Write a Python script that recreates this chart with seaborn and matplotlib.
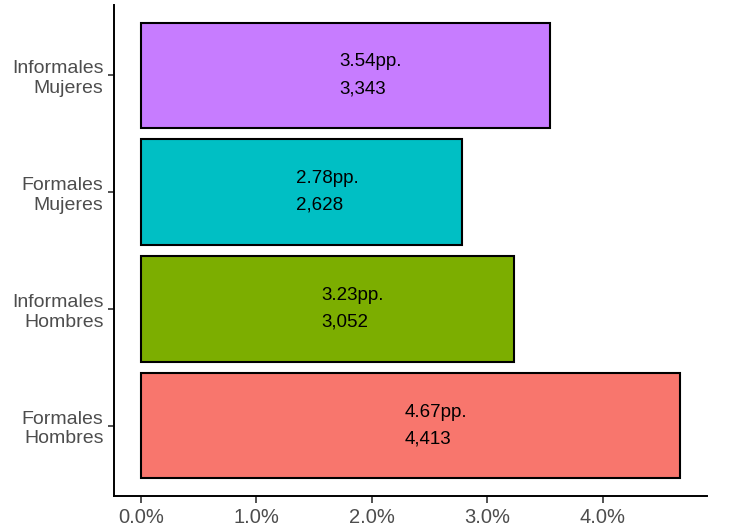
import numpy as np
import pandas as pd
import matplotlib
matplotlib.use("Agg")
import matplotlib.pyplot as plt
from matplotlib.ticker import FuncFormatter
import seaborn as sns

# data (top to bottom as drawn)
categories = ["Informales\nMujeres", "Formales\nMujeres", "Informales\nHombres", "Formales\nHombres"]
pp_values = [3.54, 2.78, 3.23, 4.67]
counts = [3343, 2628, 3052, 4413]
bar_colors = ["#C77CFF", "#00BFC4", "#7CAE00", "#F8766D"]
x_ticks = [0, 1, 2, 3, 4]

df = pd.DataFrame({"grupo": categories, "pp": pp_values, "n": counts})

sns.set_theme(style="ticks")
plt.rcParams["font.family"] = ["Liberation Sans", "DejaVu Sans"]

fig = plt.figure(figsize=(7.29, 5.29), dpi=100)
ax = fig.add_axes([0.1564, 0.0624, 0.8134, 0.9281])

sns.barplot(data=df, x="pp", y="grupo", hue="grupo", order=categories,
            hue_order=categories, palette=bar_colors, saturation=1, orient="h",
            width=0.9, edgecolor="black", linewidth=1.5, legend=False, ax=ax)

# labels inside bars
for i, (v, c) in enumerate(zip(pp_values, counts)):
    ax.text(v / 2 - 0.05, i, f"{v:.2f}pp.\n{c:,}", ha="left", va="center",
            multialignment="left", fontsize=13.5, linespacing=1.75, color="black")

ax.set_xlim(-0.2335, 4.9035)
ax.set_ylim(3.6, -0.6)
ax.set_xticks(x_ticks)
ax.xaxis.set_major_formatter(FuncFormatter(lambda x, _: f"{x:.1f}%"))
ax.set_xlabel("")
ax.set_ylabel("")

for side in ["top", "right"]:
    ax.spines[side].set_visible(False)
for side in ["left", "bottom"]:
    ax.spines[side].set_linewidth(1.4)
    ax.spines[side].set_color("black")

ax.tick_params(axis="x", length=5, width=1.2, color="#333333", labelsize=14.5,
               labelcolor="#4D4D4D", pad=4)
ax.tick_params(axis="y", length=4.5, width=1.2, color="#333333", labelsize=14,
               labelcolor="#4D4D4D", pad=3)

fig.savefig("out.png", dpi=100)
